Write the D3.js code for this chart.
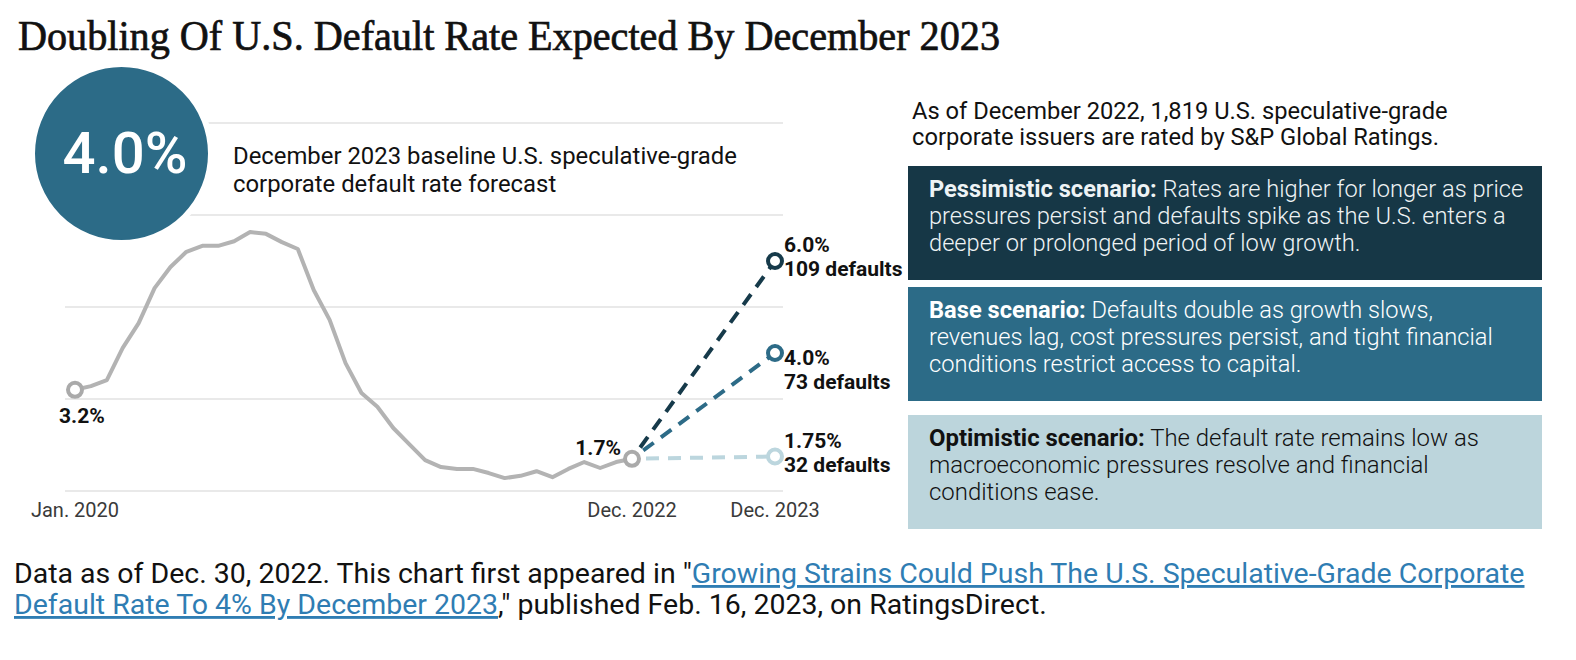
<!DOCTYPE html>
<html><head><meta charset="utf-8">
<script src="https://cdn.jsdelivr.net/npm/d3@7"></script>
<style>body{margin:0;background:#fff} svg{display:block}</style>
</head><body>
<svg id="c" width="1576" height="660"></svg>
<script>
// ---------- DATA ----------
const title = "Doubling Of U.S. Default Rate Expected By December 2023";
// monthly spec-grade default rate, Jan. 2020 .. Dec. 2022 (%)
const historyRates = [3.2,3.28,3.41,4.11,4.65,5.41,5.87,6.20,6.33,6.33,6.43,6.63,
                      6.59,6.41,6.26,5.37,4.72,3.78,3.13,2.83,2.37,2.02,1.67,1.52,
                      1.48,1.48,1.39,1.28,1.33,1.43,1.30,1.48,1.63,1.50,1.63,1.7];
const tickLabels = ["Jan. 2020","Dec. 2022","Dec. 2023"];
const tickIndex = [0,35,47];
const gridValues = [1,3,5,7,9];
const scenarioNames = ["Pessimistic","Base","Optimistic"];
const scenarioRates = [6.0,4.0,1.75];
const scenarioRateLabels = ["6.0%","4.0%","1.75%"];
const scenarioDefaults = [109,73,32];
const scenarioColors = ["#163a4a","#2d6b87","#bcd6de"];
const baselineForecast = "4.0%";
const baselineText = ["December 2023 baseline U.S. speculative-grade","corporate default rate forecast"];
const introText = ["As of December 2022, 1,819 U.S. speculative-grade","corporate issuers are rated by S&P Global Ratings."];
const scenarioText = [
  ["Pessimistic scenario:"," Rates are higher for longer as price","pressures persist and defaults spike as the U.S. enters a","deeper or prolonged period of low growth."],
  ["Base scenario:"," Defaults double as growth slows,","revenues lag, cost pressures persist, and tight financial","conditions restrict access to capital."],
  ["Optimistic scenario:"," The default rate remains low as","macroeconomic pressures resolve and financial","conditions ease."]
];
const footNote1 = "Data as of Dec. 30, 2022. This chart first appeared in \"";
const footLink1 = "Growing Strains Could Push The U.S. Speculative-Grade Corporate";
const footLink2 = "Default Rate To 4% By December 2023";
const footNote2 = ",\" published Feb. 16, 2023, on RatingsDirect.";

// ---------- LAYOUT ----------
const svg = d3.select("#c");
const FONT = "Roboto, 'Noto Sans', sans-serif";
svg.append("rect").attr("width",1576).attr("height",660).attr("fill","#fff");

function fitBlock(sels, refIndex, target){
  const n = sels[refIndex].node();
  const w = n.getComputedTextLength();
  const fs = parseFloat(sels[refIndex].style("font-size"));
  const nf = fs*target/w;
  sels.forEach(s=>s.style("font-size", nf+"px"));
}

// title
svg.append("text").attr("x",18).attr("y",50)
  .style("font-family","'Liberation Serif', 'DejaVu Serif', serif").style("font-size","42px")
  .attr("fill","#111").attr("stroke","#111").attr("stroke-width",0.7)
  .attr("textLength",982).attr("lengthAdjust","spacingAndGlyphs").text(title);

const x = d3.scaleLinear().domain([0,35,47]).range([75,632,775]);
const y = d3.scaleLinear().domain([1,9]).range([491,123]);

// gridlines
svg.append("g").selectAll("line").data(gridValues).join("line")
  .attr("x1",65).attr("x2",783).attr("y1",d=>y(d)).attr("y2",d=>y(d))
  .attr("stroke","#d3d3d3").attr("stroke-width",1);

// big circle
svg.append("circle").attr("cx",121.5).attr("cy",153.5).attr("r",89.5)
  .attr("fill","#2c6b87").attr("stroke","#fff").attr("stroke-width",6);
const bigT = svg.append("text").attr("x",125).attr("y",173).attr("text-anchor","middle")
  .style("font-family",FONT).style("font-size","53px").style("font-weight",500)
  .attr("fill","#fff").text(baselineForecast);
fitBlock([bigT],0,125);

const bl = baselineText.map((s,i)=>svg.append("text").attr("x",233).attr("y",164+i*28)
  .style("font-family",FONT).style("font-size","20px").attr("fill","#111").text(s));
fitBlock(bl,0,504);

// history line
svg.append("path").datum(historyRates)
  .attr("d", d3.line().x((d,i)=>x(i)).y(d=>y(d)))
  .attr("fill","none").attr("stroke","#b3b3b3").attr("stroke-width",4)
  .attr("stroke-linejoin","round");

// scenario dashed lines
const last = historyRates.length-1;
const x0 = x(last), y0 = y(historyRates[last]);
scenarioRates.forEach((v,i)=>{
  const x1 = x(47), y1 = y(v);
  const L = Math.hypot(x1-x0,y1-y0);
  const ux=(x1-x0)/L, uy=(y1-y0)/L;
  const s = 14;
  svg.append("line").attr("x1",x0+ux*s).attr("y1",y0+uy*s).attr("x2",x1).attr("y2",y1)
    .attr("stroke",scenarioColors[i]).attr("stroke-width",4)
    .attr("stroke-dasharray","13,9");
});

// circles
svg.append("g").selectAll("circle").data([0,last]).join("circle")
  .attr("cx",d=>x(d)).attr("cy",d=>y(historyRates[d])).attr("r",7)
  .attr("fill","#fff").attr("stroke","#aaaaaa").attr("stroke-width",4);
svg.append("g").selectAll("circle").data(scenarioRates).join("circle")
  .attr("cx",x(47)).attr("cy",d=>y(d)).attr("r",7)
  .attr("fill","#fff").attr("stroke",(d,i)=>scenarioColors[i]).attr("stroke-width",4);

// point labels
const lblStyle = s=>s.style("font-family",FONT).style("font-size","21px").style("font-weight",700).attr("fill","#111");
svg.append("text").attr("x",x(0)-16).attr("y",y(historyRates[0])+33).call(lblStyle).text("3.2%");
svg.append("text").attr("x",x(last)-11).attr("y",y(historyRates[last])-4).attr("text-anchor","end").call(lblStyle).text("1.7%");
const lblOffsets = [-9,12,-8.5];
scenarioRates.forEach((v,i)=>{
  const yy = y(v);
  svg.append("text").attr("x",784).attr("y",yy+lblOffsets[i]).call(lblStyle).text(scenarioRateLabels[i]);
  svg.append("text").attr("x",784).attr("y",yy+lblOffsets[i]+23.5).call(lblStyle).text(scenarioDefaults[i]+" defaults");
});

// x tick labels
svg.append("g").selectAll("text").data(tickLabels).join("text")
  .attr("x",(d,i)=>x(tickIndex[i])).attr("y",517).attr("text-anchor","middle")
  .style("font-family",FONT).style("font-size","20px").attr("fill","#3a3a3a").text(d=>d);

// right panel
const intro = introText.map((s,i)=>svg.append("text").attr("x",912).attr("y",119+i*26)
  .style("font-family",FONT).style("font-size","20px").attr("fill","#111").text(s));
fitBlock(intro,0,536);

const boxTop = [166,287,415];
const boxFill = ["#163746","#2c6b87","#bcd5dc"];
const boxText = ["#eef3f5","#ffffff","#111111"];
scenarioNames.forEach((nm,i)=>{
  svg.append("rect").attr("x",908).attr("y",boxTop[i]).attr("width",634).attr("height",114)
    .attr("fill",boxFill[i]);
  const lines = [];
  const l1 = svg.append("text").attr("x",929).attr("y",boxTop[i]+31)
    .style("font-family",FONT).style("font-size","20px").attr("fill",boxText[i]);
  l1.append("tspan").style("font-weight",700).text(scenarioText[i][0]);
  l1.append("tspan").style("font-weight",300).text(scenarioText[i][1]);
  lines.push(l1);
  scenarioText[i].slice(2).forEach((s,j)=>{
    lines.push(svg.append("text").attr("x",929).attr("y",boxTop[i]+31+(j+1)*27)
      .style("font-family",FONT).style("font-size","20px").style("font-weight",300)
      .attr("fill",boxText[i]).text(s));
  });
  fitBlock(lines,1,[577,564,500][i]);
});

// footer
const f1 = svg.append("text").attr("x",14).attr("y",583)
  .style("font-family",FONT).style("font-size","22px").attr("fill","#111");
f1.append("tspan").text(footNote1);
f1.append("tspan").attr("fill","#2f7db3").style("text-decoration","underline").text(footLink1);
const f2 = svg.append("text").attr("x",14).attr("y",614)
  .style("font-family",FONT).style("font-size","22px").attr("fill","#111");
f2.append("tspan").attr("fill","#2f7db3").style("text-decoration","underline").text(footLink2);
f2.append("tspan").text(footNote2);
fitBlock([f1,f2],0,1511);
</script>
</body></html>
